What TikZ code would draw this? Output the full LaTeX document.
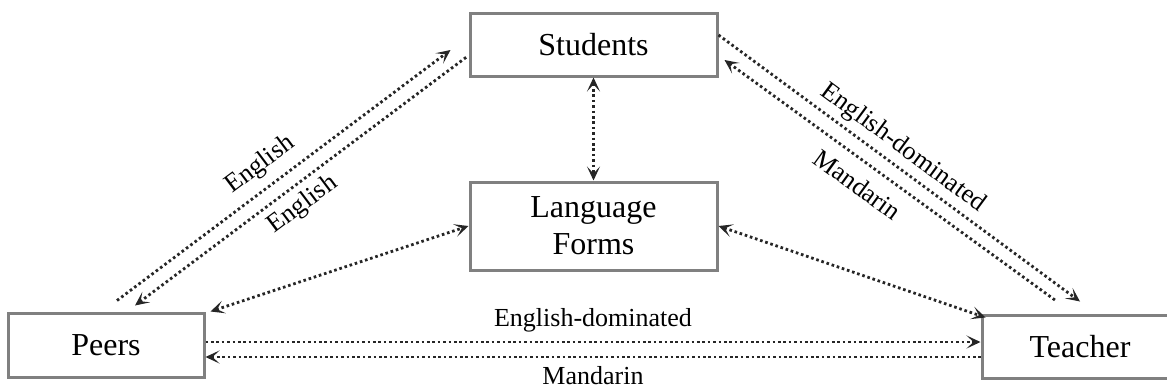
\documentclass[tikz,border=0pt]{standalone}
\usepackage{fontspec}
\setmainfont{Liberation Serif}
\usetikzlibrary{arrows.meta, positioning}

\begin{document}
\begin{tikzpicture}[x=1pt, y=-1pt, >={Stealth[length=14pt, width=13pt, inset=7pt]},
  box/.style={draw=black!50, line width=3pt, fill=white, align=center, inner sep=0pt, font=\fontsize{32}{37}\selectfont},
  link/.style={draw=black!85, line width=2.8pt, dash pattern=on 2.6pt off 2.8pt},
  lbl/.style={font=\fontsize{26}{30}\selectfont, inner sep=0pt, sloped}]
\useasboundingbox (0,0) rectangle (1167,389);
\clip (0,0) rectangle (1167,389);
\node[box, minimum width=247pt, minimum height=63pt] (students) at (593.5,44.5) {Students};
\node[box, minimum width=247pt, minimum height=88pt, below=103pt of students] (forms) {Language\\Forms};
\node[box, minimum width=196pt, minimum height=64pt] (peers) at (106,345) {Peers};
\node[box, minimum width=196pt, minimum height=63pt] (teacher) at (1080,346.5) {Teacher};
% peers and students
\draw[link, ->] ([xshift=11pt, yshift=11pt]peers.north) -- ([xshift=-18pt, yshift=-5.5pt]students.west) node[lbl, pos=.47, above=9pt] {English};
\draw[link, <-] ([xshift=29pt, yshift=6pt]peers.north) -- ([xshift=-2pt, yshift=-12.5pt]students.west) node[lbl, pos=.47, below=7pt] {English};
% students and teacher
\draw[link, ->] ([yshift=9.5pt]students.east) -- ([yshift=12pt]teacher.north) node[lbl, pos=.48, above=5pt] {English-dominated};
\draw[link, <-] ([xshift=6pt, yshift=-15.5pt]students.east) -- ([xshift=-23pt, yshift=12pt]teacher.north) node[lbl, pos=.44, below=12pt] {Mandarin};
% language forms
\draw[link, <->] (students) -- (forms);
\draw[link, <->] ([xshift=5pt]peers.north east) -- (forms.west);
\draw[link, <->] (forms.east) -- ([xshift=5pt, yshift=-4pt]teacher.north west);
% peers and teacher
\draw[link, ->] ([yshift=3pt]peers.east) -- ([yshift=3pt]peers.east -| teacher.west) node[lbl, midway, above=8pt] {English-dominated};
\draw[link, <-] ([yshift=-12pt]peers.east) -- ([yshift=-12pt]peers.east -| teacher.west) node[lbl, midway, below=8pt] {Mandarin};
\end{tikzpicture}
\end{document}
